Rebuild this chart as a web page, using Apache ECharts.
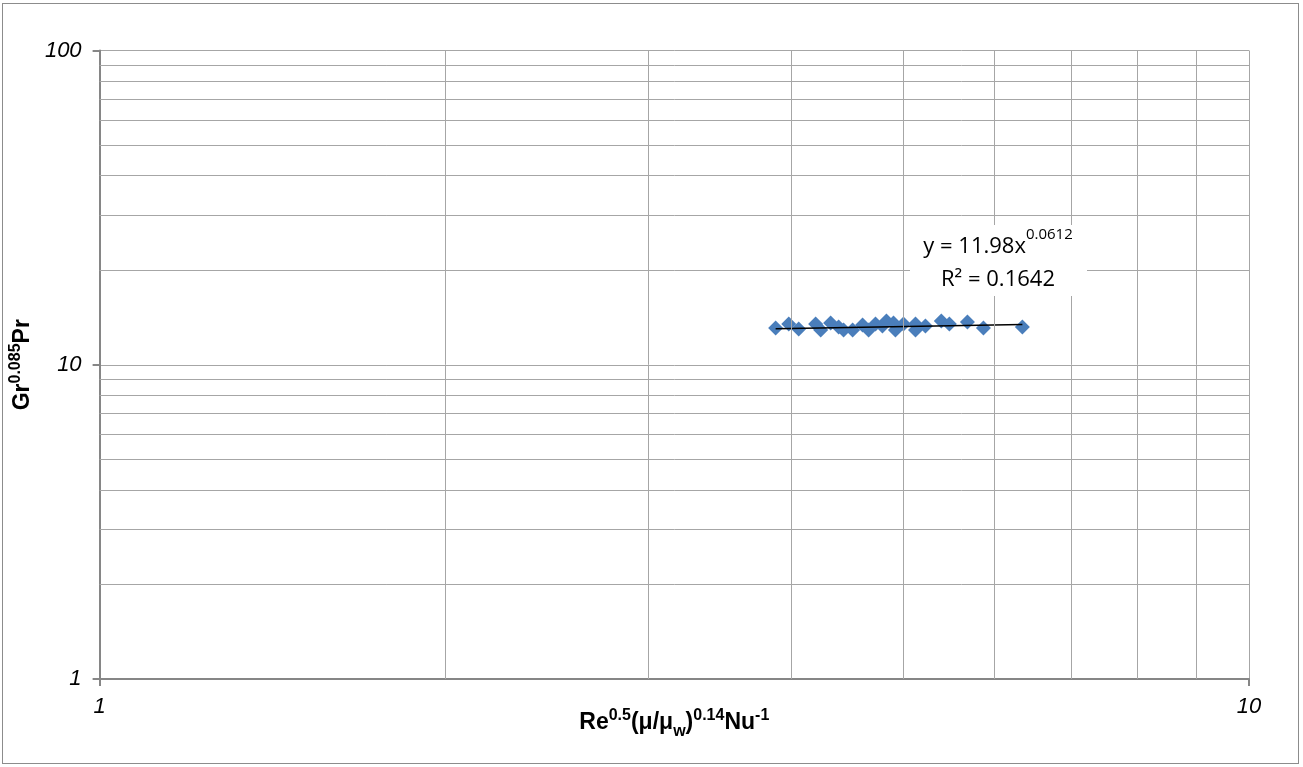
<!DOCTYPE html>
<html>
<head>
<meta charset="utf-8">
<script src="https://cdn.jsdelivr.net/npm/echarts@6/dist/echarts.min.js"></script>
<style>
html,body{margin:0;padding:0;background:#fff;}
#frame{position:absolute;left:2px;top:3px;width:1297px;height:761px;border:1px solid #8c8c8c;box-sizing:border-box;}
#c{position:absolute;left:0;top:0;width:1303px;height:767px;}
</style>
</head>
<body>
<div id="frame"></div>
<div id="c"></div>
<script>
// data
const pointsX = [3.874, 3.977, 4.057, 4.197, 4.240, 4.325, 4.395, 4.439, 4.520, 4.611, 4.667, 4.732, 4.798, 4.837, 4.906, 4.925, 5.005, 5.127, 5.127, 5.230, 5.399, 5.487, 5.689, 5.874, 6.351];
const pointsY = [13.09, 13.48, 12.99, 13.48, 12.90, 13.57, 13.18, 12.90, 12.90, 13.38, 12.90, 13.48, 13.28, 13.77, 13.57, 12.90, 13.48, 13.48, 12.90, 13.28, 13.77, 13.48, 13.67, 13.09, 13.18];
const trendX = [3.874, 6.351];
const trendY = [13.02, 13.42];
const xMinorGrid = [2, 3, 4, 5, 6, 7, 8, 9];
const yMinorGrid = [2, 3, 4, 5, 6, 7, 8, 9, 20, 30, 40, 50, 60, 70, 80, 90];
const eqLine1 = 'y = 11.98x';
const eqExp = '0.0612';
const eqLine2 = 'R² = 0.1642';

const chart = echarts.init(document.getElementById('c'), null, {renderer: 'canvas'});
const gridColor = '#a6a6a6';
const axisColor = '#868686';

const labelStyle = {fontFamily: 'Liberation Sans, Arial', fontStyle: 'italic', fontSize: 22, color: '#000'};

const minorLines = [];
xMinorGrid.forEach(v => minorLines.push({xAxis: v}));
yMinorGrid.forEach(v => minorLines.push({yAxis: v}));

const titleFont = 'Liberation Sans, Arial';
const tb = {fontFamily: titleFont, fontWeight: 'bold', fontSize: 23, color: '#000', lineHeight: 26, verticalAlign: 'bottom'};
const ts = {fontFamily: titleFont, fontWeight: 'bold', fontSize: 16, color: '#000', lineHeight: 26, verticalAlign: 'top'};
const tu = {fontFamily: titleFont, fontWeight: 'bold', fontSize: 16, color: '#000', lineHeight: 26, verticalAlign: 'bottom', padding: [0, 0, -6, 0]};

chart.setOption({
  animation: false,
  backgroundColor: 'transparent',
  grid: {left: 98, right: 54, top: 50.5, bottom: 88, containLabel: false},
  xAxis: {
    type: 'log', logBase: 10, min: 1, max: 10,
    axisLine: {show: true, onZero: false, lineStyle: {color: axisColor, width: 2}},
    axisTick: {show: true, length: 7, lineStyle: {color: axisColor, width: 2}},
    splitLine: {show: true, lineStyle: {color: gridColor, width: 1}},
    axisLabel: Object.assign({margin: 17}, labelStyle),
    name: '{b|Re}{s|0.5}{b|(μ/μ}{u|w}{b|)}{s|0.14}{b|Nu}{s|-1}',
    nameLocation: 'middle', nameGap: 29, nameMoveOverlap: false,
    nameTextStyle: {rich: {b: tb, s: ts, u: tu}}
  },
  yAxis: {
    type: 'log', logBase: 10, min: 1, max: 100,
    axisLine: {show: true, onZero: false, lineStyle: {color: axisColor, width: 2}},
    axisTick: {show: true, length: 7, lineStyle: {color: axisColor, width: 2}},
    splitLine: {show: true, lineStyle: {color: gridColor, width: 1}},
    axisLabel: Object.assign({margin: 18}, labelStyle),
    name: '{b|Gr}{s|0.085}{b|Pr}',
    nameLocation: 'middle', nameGap: 62, nameRotate: 90,
    nameTextStyle: {rich: {b: tb, s: ts}}
  },
  series: [
    {
      type: 'line', data: [], z: 1, silent: true,
      markLine: {
        silent: true, symbol: 'none', animation: false,
        label: {show: false},
        lineStyle: {color: gridColor, width: 1, type: 'solid'},
        emphasis: {disabled: true},
        data: minorLines
      }
    },
    {
      type: 'scatter', z: 3,
      symbol: 'diamond', symbolSize: [15, 15],
      itemStyle: {color: '#4a7ebb', opacity: 1},
      data: pointsX.map((x, i) => [x, pointsY[i]])
    },
    {
      type: 'line', z: 4, symbol: 'none', silent: true,
      lineStyle: {color: '#000', width: 1.5},
      data: trendX.map((x, i) => [x, trendY[i]])
    }
  ],
  graphic: [
    {
      type: 'rect', z: 10,
      shape: {x: 910, y: 225, width: 177, height: 71},
      style: {fill: '#fff'}
    },
    {
      type: 'text', z: 11, x: 998, y: 225,
      style: {
        text: '{m|' + eqLine1 + '}{e|' + eqExp + '}\n{m|' + eqLine2 + '}',
        align: 'center', verticalAlign: 'top',
        rich: {
          m: {fontFamily: 'Open Sans, Liberation Sans', fontSize: 22, fill: '#000', lineHeight: 33, verticalAlign: 'bottom'},
          e: {fontFamily: 'Open Sans, Liberation Sans', fontSize: 15, fill: '#000', lineHeight: 33, verticalAlign: 'top', padding: [2, 0, 0, 0]}
        }
      }
    }
  ]
});
</script>
</body>
</html>
